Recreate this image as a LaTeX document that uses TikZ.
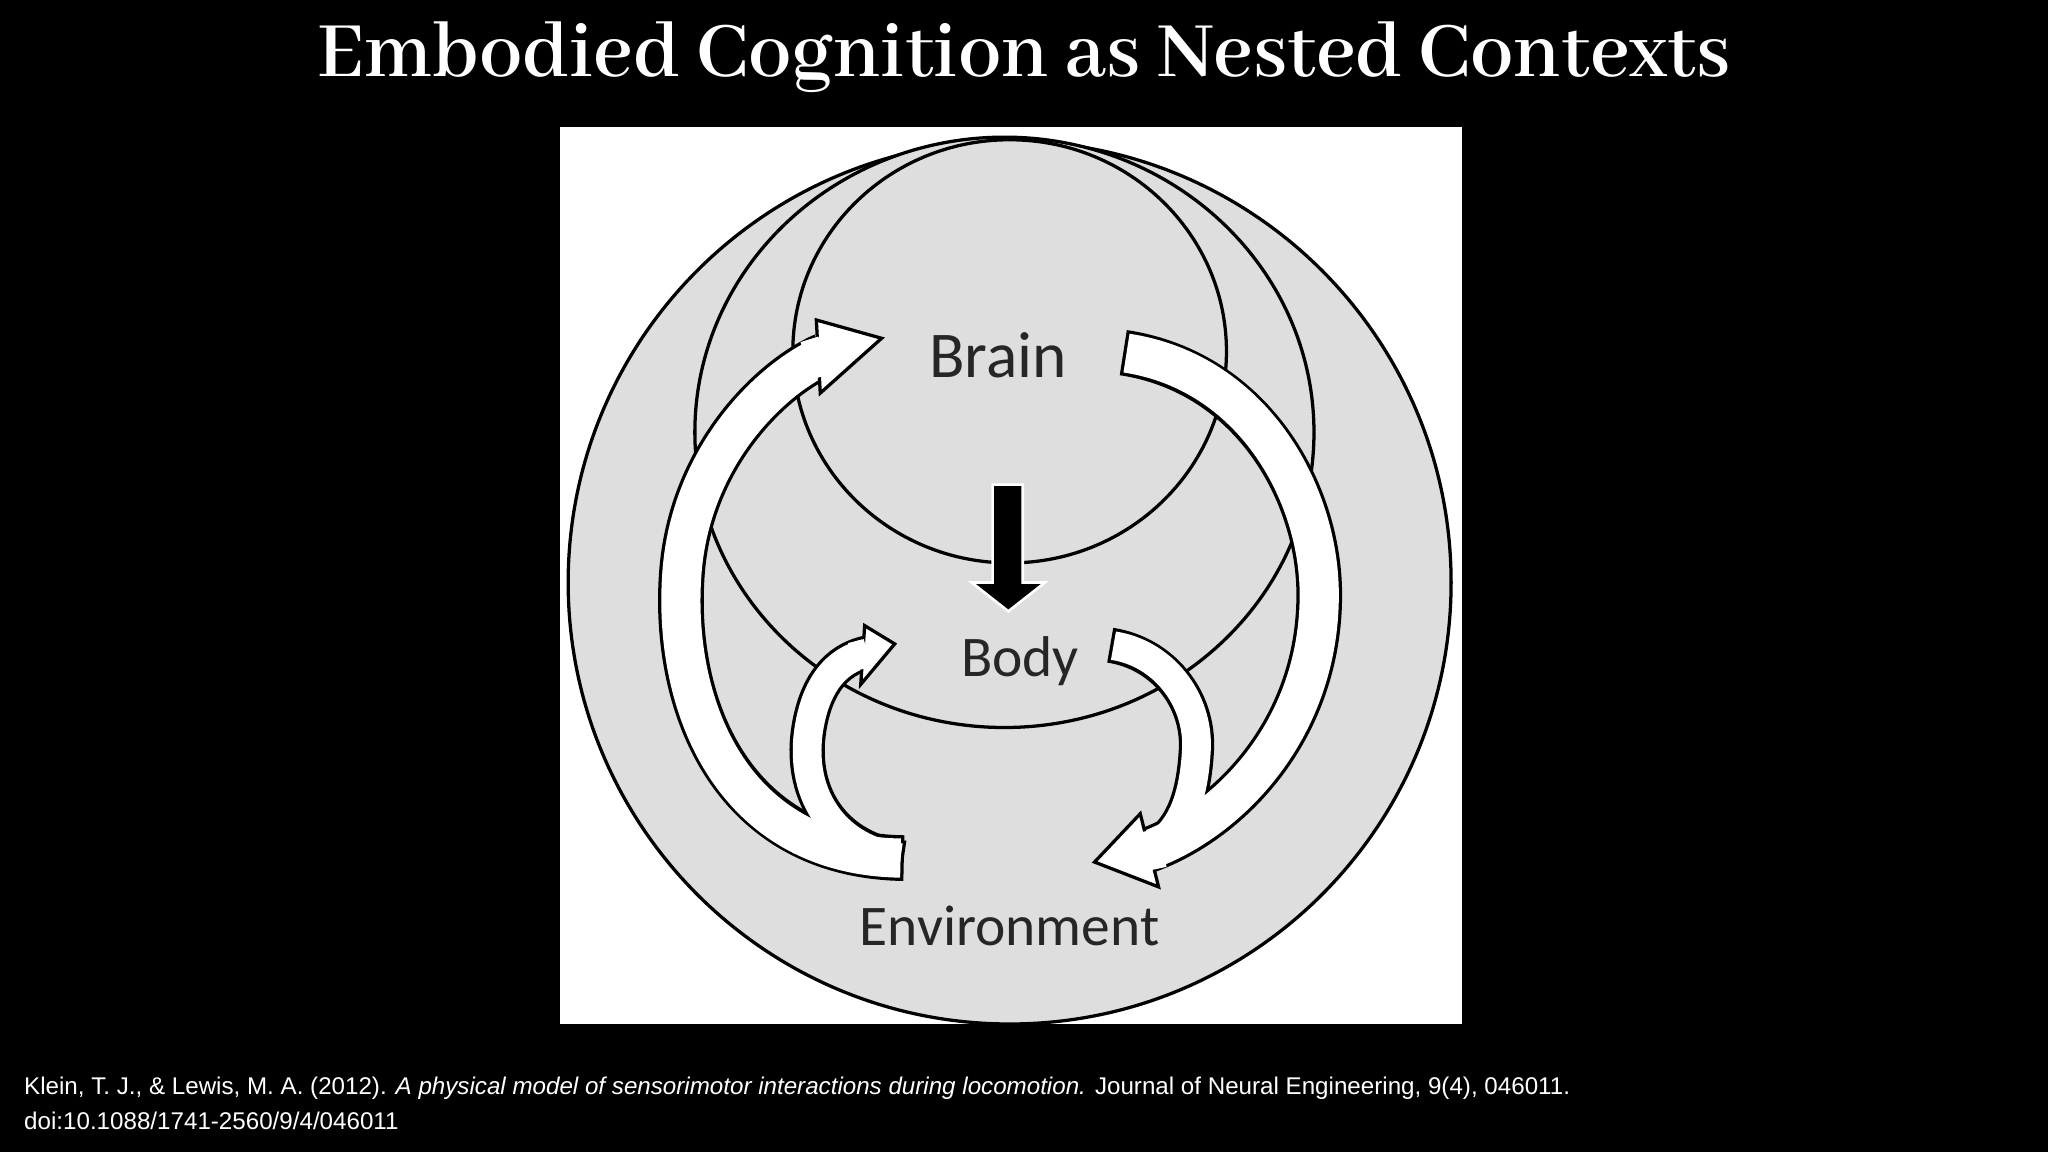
\documentclass[tikz,border=0pt]{standalone}
\usepackage{fontspec}
\setmainfont{Carlito}
\newfontfamily\titlefont{Abhaya Libre}
\newfontfamily\citefont{Liberation Sans}
\begin{document}
\begin{tikzpicture}[x=1pt,y=-1pt,
  ring/.style={fill=lgray,draw=black,line width=2.5pt},
  blackbig/.style={draw=black,line width=35pt},
  whitebig/.style={draw=white,line width=30pt},
  blacksmall/.style={draw=black,line width=27pt},
  whitesmall/.style={draw=white,line width=22pt},
  headstyle/.style={fill=white,draw=black,line width=2.5pt,line join=miter},
  lbl/.style={font=\fontsize{50}{50}\selectfont,text=black!85}]
\definecolor{lgray}{HTML}{DEDEDE}
\useasboundingbox (0,0) rectangle (1568,882);
\fill[black] (0,0) rectangle (1568,882);
\node[text=white,font=\titlefont\bfseries\fontsize{66}{66}\selectfont] (title) at (784,44) {Embodied Cognition as Nested Contexts};
\fill[white] (429,97) rectangle (1119,784);
\begin{scope}
\clip (429,97) rectangle (1119,784);
\draw[ring] (773,446) ellipse [x radius=338,y radius=338];
\draw[ring] (769,331) ellipse [x radius=237,y radius=226];
\draw[ring] (773,269) ellipse [x radius=166,y radius=162];
\end{scope}
\def\pA{(692,657) .. controls (560,655) and (515,540) .. (522,440) .. controls (528,350) and (590,290) .. (631,272)}
\def\pB{(692,657) .. controls (640,650) and (612,610) .. (619,560) .. controls (624,525) and (640,505) .. (664,500)}
\def\pC{(860,270) .. controls (960,285) and (1012,380) .. (1010,460) .. controls (1008,560) and (940,630) .. (876,652)}
\def\pD{(850,494) .. controls (890,500) and (918,535) .. (916,574) .. controls (914,610) and (905,640) .. (876,652)}
\draw[blackbig] \pA; \draw[blacksmall] \pB; \draw[blackbig] \pC; \draw[blacksmall] \pD;
\draw[whitebig,shorten <=2.5pt] \pA; \draw[whitesmall,shorten <=2.5pt] \pB;
\draw[whitebig,shorten <=2.5pt] \pC; \draw[whitesmall,shorten <=2.5pt] \pD;
\draw[headstyle] (625,245) -- (675,259) -- (628,301) -- cycle;
\draw[headstyle] (662,479) -- (685,493) -- (659,524) -- cycle;
\draw[headstyle] (873,623) -- (838,660) -- (887,679) -- cycle;
\draw[whitebig,shorten <=2.5pt,shorten >=0pt] (615,277) -- (631,272);
\draw[whitesmall] (652,503) -- (664,500);
\draw[whitebig] (890,649) -- (876,652);
\draw[fill=black,draw=white,line width=2pt] (760,371) -- (783,371) -- (783,446) -- (800,446) -- (772,468) -- (744,446) -- (760,446) -- cycle;
\node[lbl] (brain) at (764,272) {Brain};
\node[lbl,font=\fontsize{44}{44}\selectfont] (body) at (781,506) {Body};
\node[lbl,font=\fontsize{44}{44}\selectfont] (env) at (773,709) {Environment};
\node[anchor=west,align=left,text=white,font=\citefont\fontsize{18.5}{27}\selectfont] (cite) at (15,845) {Klein, T. J., \& Lewis, M. A. (2012). \textit{A physical model of sensorimotor interactions during locomotion.} Journal of Neural Engineering, 9(4), 046011.\\doi:10.1088/1741-2560/9/4/046011};
\end{tikzpicture}
\end{document}
